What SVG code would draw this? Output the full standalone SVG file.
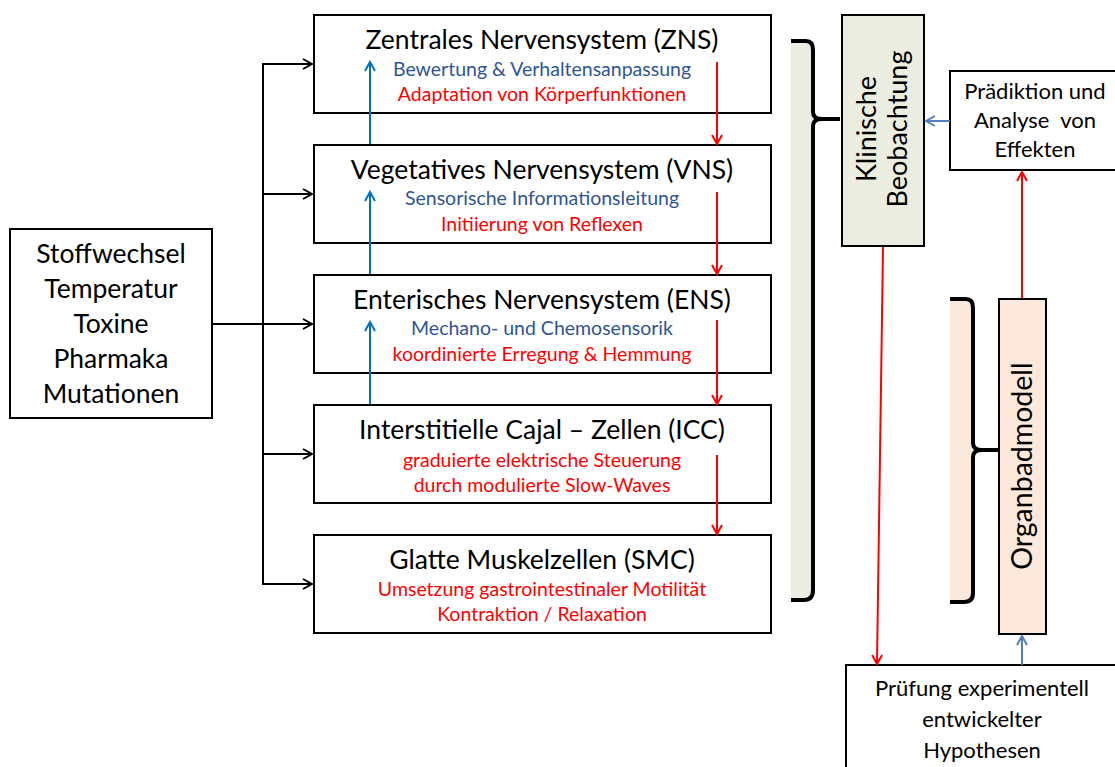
<svg xmlns="http://www.w3.org/2000/svg" width="1115" height="767" viewBox="0 0 1115 767">
<style>
text{font-family:Lato,"Liberation Sans",sans-serif;text-anchor:middle}
.box{fill:#fff;stroke:#000;stroke-width:2}
.t{font-size:26.5px;fill:#000}
.sb{font-size:19.5px;fill:#2F5597}
.sr{font-size:19.5px;fill:#FF0000}
.st{font-size:22px;fill:#000}
.k{stroke:#000;stroke-width:2;fill:none}
.bl{stroke:#0070C0;stroke-width:2;fill:none}
.rd{stroke:#FF0000;stroke-width:2;fill:none}
.lb{stroke:#4F81BD;stroke-width:2;fill:none}
.br{stroke:#000;stroke-width:4;fill:none}
</style>
<defs>
<marker id="ak" markerWidth="12" markerHeight="12" refX="10" refY="6" orient="auto" markerUnits="userSpaceOnUse"><path d="M1,1 L10,6 L1,11" stroke="#000" stroke-width="2" fill="none"/></marker>
<marker id="ab" markerWidth="12" markerHeight="12" refX="10" refY="6" orient="auto" markerUnits="userSpaceOnUse"><path d="M1,1 L10,6 L1,11" stroke="#0070C0" stroke-width="2" fill="none"/></marker>
<marker id="ar" markerWidth="12" markerHeight="12" refX="10" refY="6" orient="auto" markerUnits="userSpaceOnUse"><path d="M1,1 L10,6 L1,11" stroke="#FF0000" stroke-width="2" fill="none"/></marker>
<marker id="al" markerWidth="12" markerHeight="12" refX="10" refY="6" orient="auto" markerUnits="userSpaceOnUse"><path d="M1,1 L10,6 L1,11" stroke="#4F81BD" stroke-width="2" fill="none"/></marker>
</defs>
<rect width="1115" height="767" fill="#fff"/>

<g id="bracket-klinisch">
<rect x="791" y="41" width="22" height="559" fill="#EBEDE0"/>
<path class="br" d="M791,41 L806,41 Q813,41 813,50 L813,112 Q813,119 822,119 L840,119 M822,119 Q813,119 813,126 L813,590 Q813,600 804,600 L791,600"/>
</g>
<g id="bracket-organbad">
<rect x="950" y="299" width="23" height="303" fill="#FCE9DB"/>
<path class="br" d="M950,299 L966,299 Q973,299 973,308 L973,443 Q973,450 982,450 L999,450 M982,450 Q973,450 973,457 L973,593 Q973,602 964,602 L950,602"/>
</g>

<g id="einfluss">
<rect class="box" x="10" y="229" width="202" height="189"/>
<text class="t" x="111" y="263">Stoffwechsel</text>
<text class="t" x="111" y="298">Temperatur</text>
<text class="t" x="111" y="333">Toxine</text>
<text class="t" x="111" y="368">Pharmaka</text>
<text class="t" x="111" y="403">Mutationen</text>
</g>

<g id="zns">
<rect class="box" x="314" y="15" width="457" height="98"/>
<text class="t" x="542" y="49">Zentrales Nervensystem (ZNS)</text>
<text class="sb" x="542" y="76">Bewertung &amp; Verhaltensanpassung</text>
<text class="sr" x="542" y="101">Adaptation von Körperfunktionen</text>
</g>
<g id="vns">
<rect class="box" x="314" y="145" width="457" height="98"/>
<text class="t" x="542" y="179">Vegetatives Nervensystem (VNS)</text>
<text class="sb" x="542" y="205">Sensorische Informationsleitung</text>
<text class="sr" x="542" y="231">Initiierung von Reflexen</text>
</g>
<g id="ens">
<rect class="box" x="314" y="275" width="457" height="98"/>
<text class="t" x="542" y="309">Enterisches Nervensystem (ENS)</text>
<text class="sb" x="542" y="335">Mechano- und Chemosensorik</text>
<text class="sr" x="542" y="361">koordinierte Erregung &amp; Hemmung</text>
</g>
<g id="icc">
<rect class="box" x="314" y="405" width="457" height="98"/>
<text class="t" x="542" y="439">Interstitielle Cajal – Zellen (ICC)</text>
<text class="sr" x="542" y="467">graduierte elektrische Steuerung</text>
<text class="sr" x="542" y="492">durch modulierte Slow-Waves</text>
</g>
<g id="smc">
<rect class="box" x="314" y="535" width="457" height="98"/>
<text class="t" x="542" y="569">Glatte Muskelzellen (SMC)</text>
<text class="sr" x="542" y="596">Umsetzung gastrointestinaler Motilität</text>
<text class="sr" x="542" y="621">Kontraktion / Relaxation</text>
</g>

<g id="klinisch">
<rect x="842" y="15" width="82" height="231" fill="#EBEDE0" stroke="#000" stroke-width="2"/>
<text class="t" style="font-size:27px" transform="translate(876,129) rotate(-90)">Klinische</text>
<text class="t" style="font-size:27px" transform="translate(907,129) rotate(-90)">Beobachtung</text>
</g>
<g id="praediktion">
<rect class="box" x="950" y="71" width="170" height="99"/>
<text class="st" x="1035" y="99">Prädiktion und</text>
<text class="st" x="1035" y="128">Analyse&#160; von</text>
<text class="st" x="1035" y="157">Effekten</text>
</g>
<g id="organbad">
<rect x="999" y="299" width="47" height="335" fill="#FCE9DB" stroke="#000" stroke-width="2"/>
<text class="t" style="font-size:28.5px" transform="translate(1032,466) rotate(-90)">Organbadmodell</text>
</g>
<g id="pruefung">
<rect class="box" x="846" y="665" width="274" height="110"/>
<text class="st" x="982" y="696">Prüfung experimentell</text>
<text class="st" x="982" y="727">entwickelter</text>
<text class="st" x="982" y="758">Hypothesen</text>
</g>

<g id="connectors">
<line class="k" x1="212" y1="324" x2="312" y2="324" marker-end="url(#ak)"/>
<line class="k" x1="263" y1="64" x2="263" y2="584"/>
<line class="k" x1="262" y1="64" x2="312" y2="64" marker-end="url(#ak)"/>
<line class="k" x1="262" y1="194" x2="312" y2="194" marker-end="url(#ak)"/>
<line class="k" x1="262" y1="454" x2="312" y2="454" marker-end="url(#ak)"/>
<line class="k" x1="262" y1="584" x2="312" y2="584" marker-end="url(#ak)"/>
<line class="bl" x1="370" y1="144" x2="370" y2="62" marker-end="url(#ab)"/>
<line class="bl" x1="370" y1="274" x2="370" y2="192" marker-end="url(#ab)"/>
<line class="bl" x1="370" y1="404" x2="370" y2="322" marker-end="url(#ab)"/>
<line class="rd" x1="717" y1="62" x2="717" y2="144" marker-end="url(#ar)"/>
<line class="rd" x1="717" y1="192" x2="717" y2="274" marker-end="url(#ar)"/>
<line class="rd" x1="717" y1="320" x2="717" y2="404" marker-end="url(#ar)"/>
<line class="rd" x1="717" y1="455" x2="717" y2="534" marker-end="url(#ar)"/>
<line class="lb" x1="950" y1="121" x2="926" y2="121" marker-end="url(#al)"/>
<line class="rd" x1="1022" y1="298" x2="1022" y2="172" marker-end="url(#ar)"/>
<line class="rd" x1="883" y1="247" x2="877" y2="664" marker-end="url(#ar)"/>
<line class="lb" x1="1022" y1="665" x2="1022" y2="636" marker-end="url(#al)"/>
</g>
</svg>
